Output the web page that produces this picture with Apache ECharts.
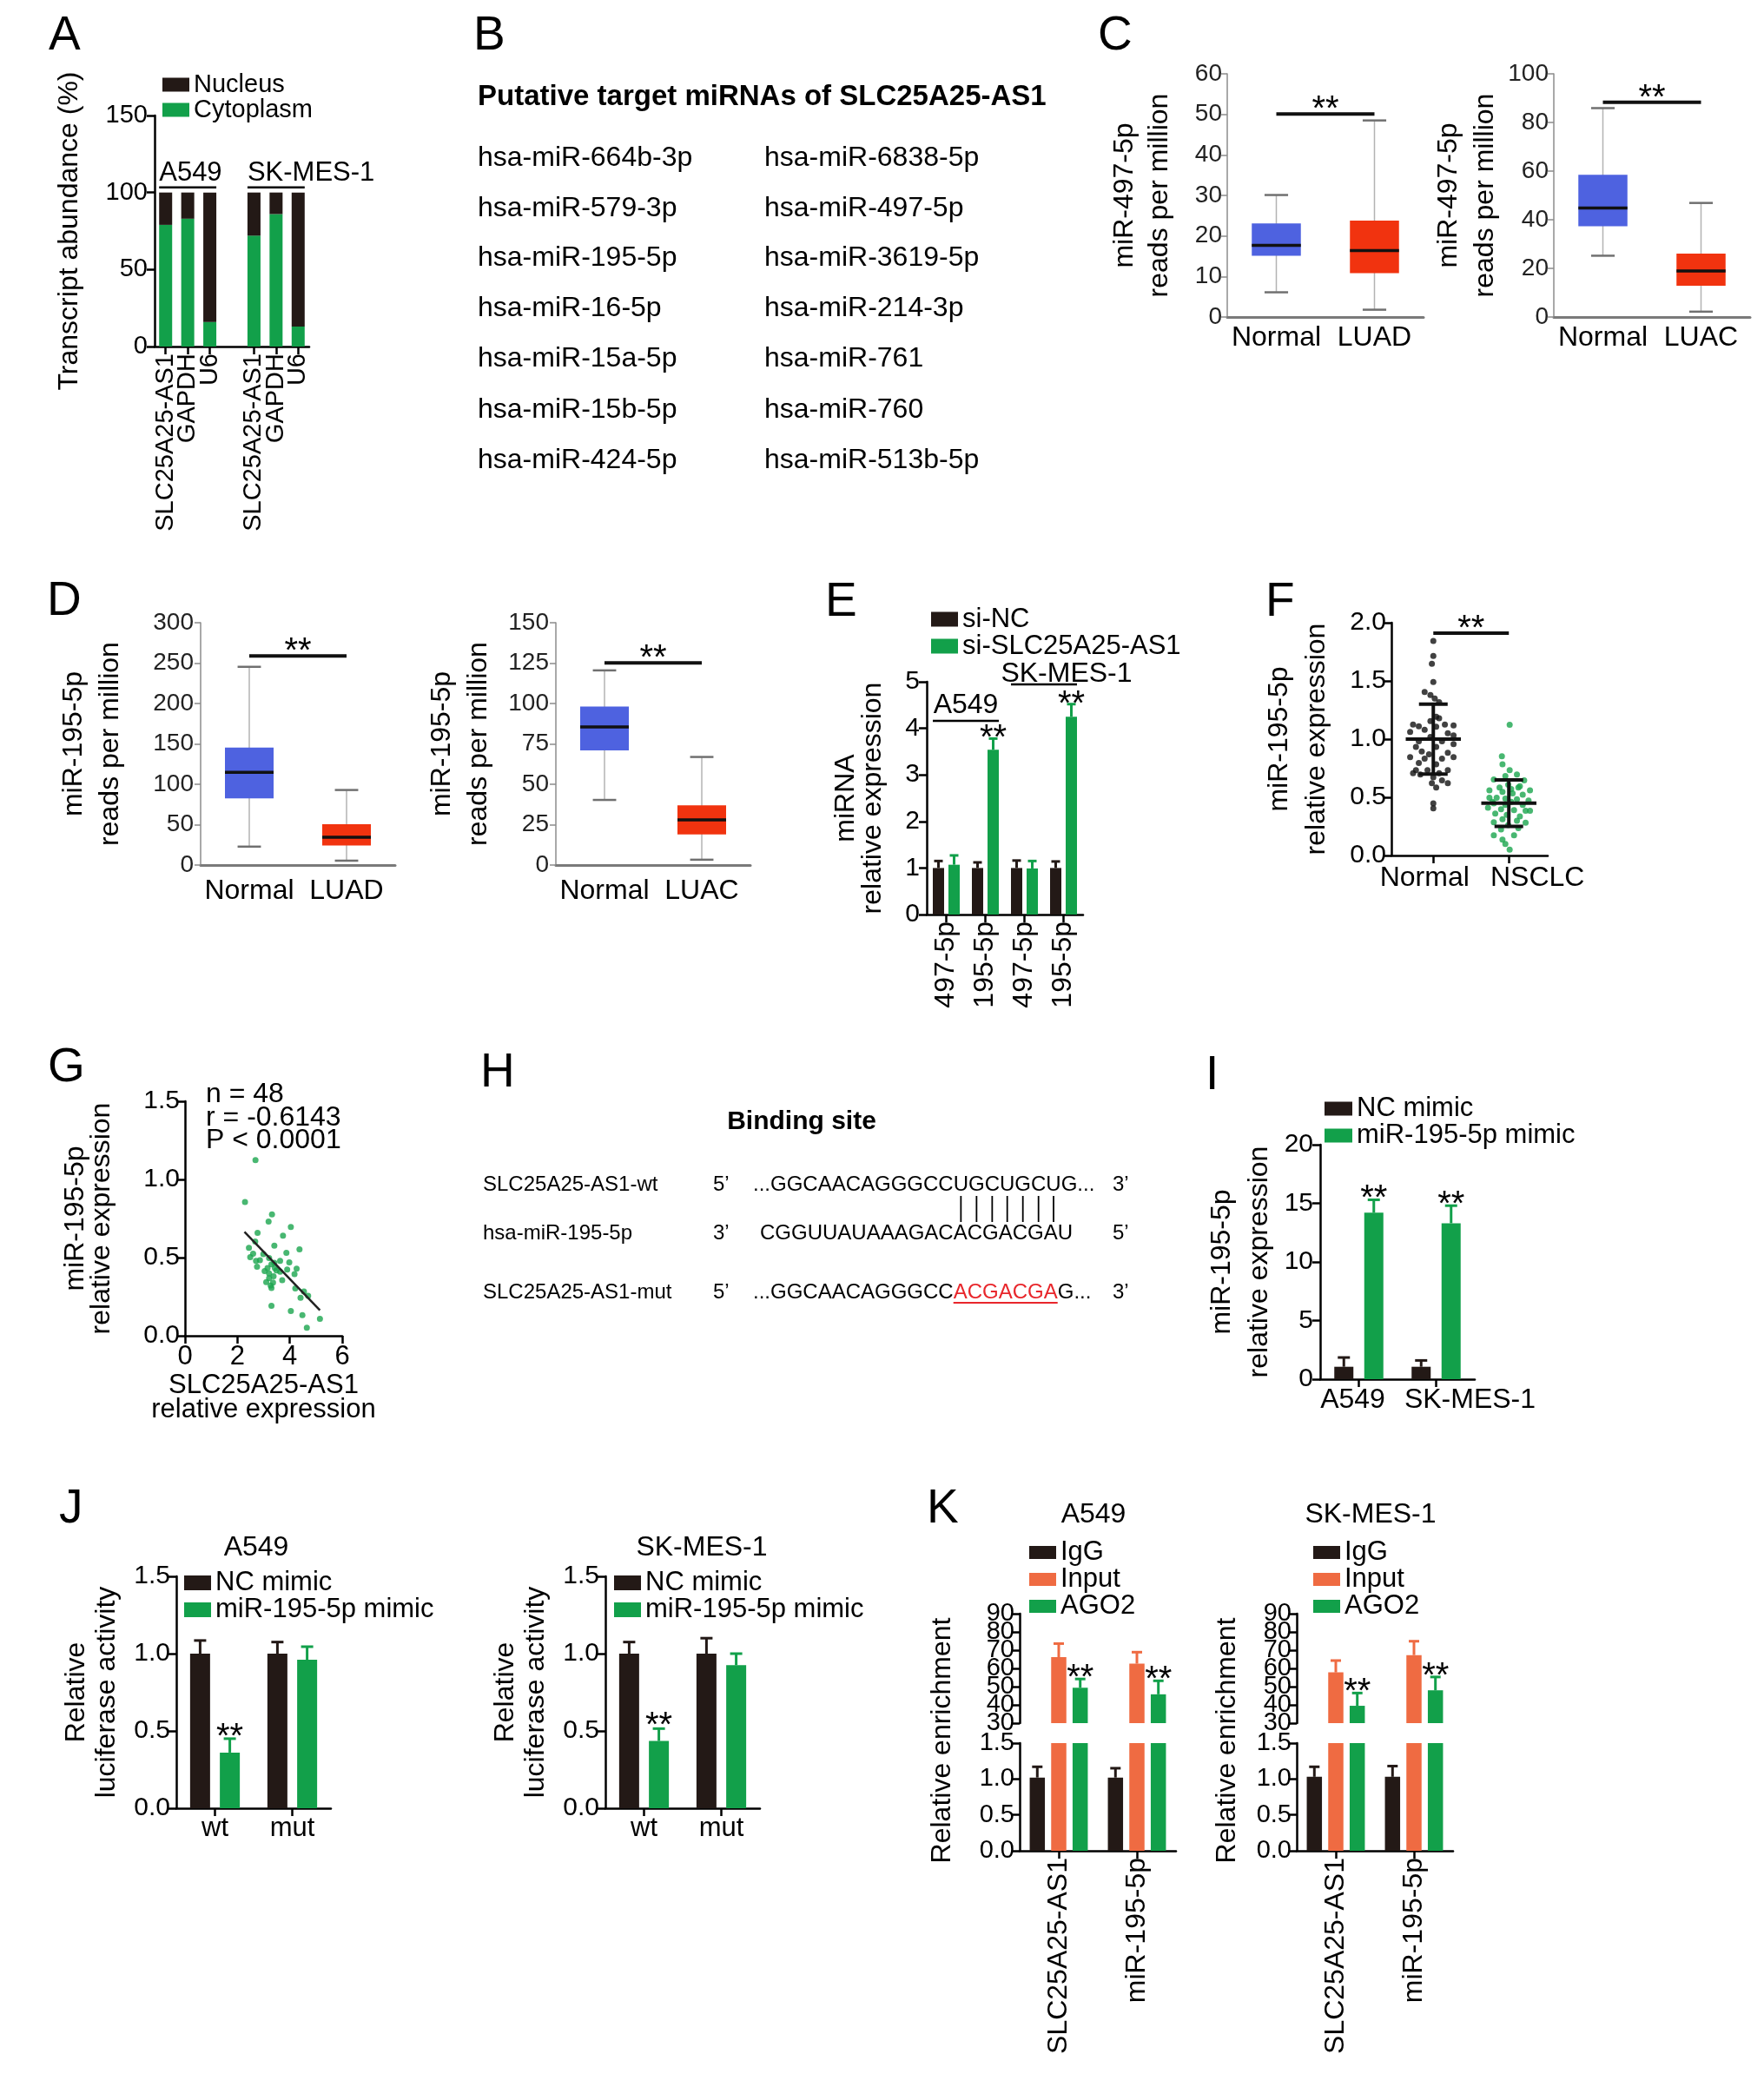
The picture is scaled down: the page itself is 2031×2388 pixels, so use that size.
<!DOCTYPE html>
<html lang="en">
<head>
<meta charset="utf-8">
<title>SLC25A25-AS1 / miR-195-5p</title>
<script src="https://cdn.jsdelivr.net/npm/echarts@6.0.0/dist/echarts.min.js"></script>
<style>
  html, body { margin: 0; padding: 0; background: #ffffff; }
  #chart { width: 2031px; height: 2388px; }
</style>
</head>
<body>
<div id="chart"></div>
<script>
/* ====================== DATA ====================== */
// Panel A
const A_categories = ['SLC25A25-AS1', 'GAPDH', 'U6', '', 'SLC25A25-AS1', 'GAPDH', 'U6'];
const A_groupLabels = ['A549', 'SK-MES-1'];
const A_seriesNames = ['Nucleus', 'Cytoplasm'];
const A_cytoplasm = [79, 83, 16, null, 72, 86, 13];
const A_nucleus = [21, 17, 84, null, 28, 14, 87];
const A_yTicks = [0, 50, 100, 150];

// Panel B
const B_title = 'Putative target miRNAs of SLC25A25-AS1';
const B_column1 = ['hsa-miR-664b-3p', 'hsa-miR-579-3p', 'hsa-miR-195-5p', 'hsa-miR-16-5p', 'hsa-miR-15a-5p', 'hsa-miR-15b-5p', 'hsa-miR-424-5p'];
const B_column2 = ['hsa-miR-6838-5p', 'hsa-miR-497-5p', 'hsa-miR-3619-5p', 'hsa-miR-214-3p', 'hsa-miR-761', 'hsa-miR-760', 'hsa-miR-513b-5p'];

// Panel C  (box = [min, Q1, median, Q3, max])
const C_yTitle = 'miR-497-5p\nreads per million';
const C1_categories = ['Normal', 'LUAD'];
const C1_boxes = [[6.1, 15.1, 17.7, 23.1, 30.1], [1.8, 10.8, 16.4, 23.8, 48.5]];
const C1_sig = 50.1;
const C1_yTicks = [0, 10, 20, 30, 40, 50, 60];
const C2_categories = ['Normal', 'LUAC'];
const C2_boxes = [[25.2, 37.3, 44.8, 58.5, 85.9], [2.2, 12.9, 18.9, 26.1, 46.9]];
const C2_sig = 88.3;
const C2_yTicks = [0, 20, 40, 60, 80, 100];

// Panel D
const D_yTitle = 'miR-195-5p\nreads per million';
const D1_categories = ['Normal', 'LUAD'];
const D1_boxes = [[22.8, 82.4, 114.9, 145.3, 245.4], [5.4, 24.2, 34.3, 50.6, 92.9]];
const D1_sig = 258.8;
const D1_yTicks = [0, 50, 100, 150, 200, 250, 300];
const D2_categories = ['Normal', 'LUAC'];
const D2_boxes = [[40.3, 71.0, 85.5, 98.1, 120.5], [3.3, 19.0, 28.0, 37.0, 66.9]];
const D2_sig = 125.2;
const D2_yTicks = [0, 25, 50, 75, 100, 125, 150];

// Panel E
const E_categories = ['497-5p', '195-5p', '497-5p', '195-5p'];
const E_groupLabels = ['A549', 'SK-MES-1'];
const E_seriesNames = ['si-NC', 'si-SLC25A25-AS1'];
const E_siNC = [1.00, 1.00, 1.00, 1.00];
const E_siNC_sd = [0.15, 0.12, 0.16, 0.14];
const E_siSLC = [1.07, 3.54, 0.99, 4.25];
const E_siSLC_sd = [0.20, 0.24, 0.16, 0.27];
const E_yTicks = [0, 1, 2, 3, 4, 5];

// Panel F  (points = [x position, value])
const F_categories = ['Normal', 'NSCLC'];
const F_normal = [[1.000,1.843],[1.000,1.714],[0.981,1.647],[1.000,1.491],[0.885,1.404],[0.962,1.379],[1.019,1.349],[1.077,1.317],[1.038,1.193],[0.962,1.155],
  [0.732,1.125],[0.808,1.111],[1.153,1.125],[1.268,1.118],[1.038,1.106],[0.885,1.081],[0.693,1.061],[1.192,1.051],[0.962,1.019],[1.268,1.031],
  [0.808,0.981],[1.115,0.981],[1.268,0.957],[0.770,0.932],[1.038,0.932],[0.847,0.894],[1.192,0.882],[0.943,0.870],[0.693,0.845],[0.885,0.832],
  [1.115,0.832],[1.268,0.845],[0.808,0.795],[1.038,0.783],[0.770,0.733],[0.923,0.733],[1.192,0.733],[0.828,0.696],[1.077,0.708],[0.732,0.708],
  [1.000,0.671],[1.115,0.646],[0.981,0.621],[1.192,0.621],[1.038,0.584],[1.000,0.447],[1.000,0.405],[1.077,1.180]];
const F_nsclc = [[2.011,1.123],[1.908,0.852],[1.916,0.783],[2.011,0.733],[2.107,0.696],[1.954,0.683],[1.801,0.653],[2.203,0.646],[1.992,0.609],[1.877,0.584],
  [2.126,0.584],[1.743,0.559],[2.280,0.559],[1.916,0.547],[2.050,0.534],[2.184,0.522],[1.743,0.497],[1.839,0.497],[1.954,0.489],[2.107,0.484],
  [2.261,0.472],[1.801,0.447],[2.031,0.460],[2.184,0.435],[1.724,0.410],[1.897,0.398],[2.069,0.390],[2.280,0.385],[1.820,0.360],[1.973,0.348],
  [2.146,0.335],[1.916,0.311],[2.107,0.298],[1.801,0.286],[2.222,0.281],[1.992,0.261],[2.126,0.236],[1.897,0.224],[1.801,0.174],[2.069,0.174],
  [1.916,0.137],[1.954,0.099],[2.011,0.050],[1.782,0.460],[2.222,0.385],[1.954,0.435],[2.146,0.596],[2.031,0.571]];
const F_meanSD = [[1, 1.00, 0.30], [2, 0.45, 0.20]];
const F_sig = 1.91;
const F_yTicks = [0, 0.5, 1.0, 1.5, 2.0];

// Panel G
const G_points = [[2.69,1.123],[2.29,0.856],[3.32,0.776],[3.19,0.730],[4.04,0.696],[2.77,0.659],[3.74,0.640],[2.68,0.603],[3.41,0.577],[2.44,0.562],
  [4.37,0.553],[3.87,0.531],[2.60,0.525],[2.99,0.522],[2.49,0.503],[3.21,0.497],[2.86,0.484],[2.71,0.479],[3.63,0.479],[3.30,0.457],
  [2.75,0.442],[3.43,0.433],[3.49,0.418],[4.26,0.429],[3.90,0.423],[3.04,0.414],[3.63,0.410],[3.21,0.399],[3.38,0.381],[4.18,0.395],
  [3.71,0.355],[3.21,0.368],[3.10,0.343],[3.36,0.340],[3.27,0.321],[4.21,0.303],[4.54,0.284],[3.30,0.306],[4.41,0.243],[4.70,0.256],
  [3.30,0.191],[4.04,0.158],[4.48,0.132],[5.15,0.108],[4.65,0.052],[3.15,0.433],[3.98,0.470],[3.41,0.466]];
const G_fitLine = [[2.27, 0.665], [5.15, 0.163]];
const G_stats = ['n = 48', 'r = -0.6143', 'P < 0.0001'];
const G_xTicks = [0, 2, 4, 6];
const G_yTicks = [0, 0.5, 1.0, 1.5];

// Panel H
const H_title = 'Binding site';
const H_rowLabels = ['SLC25A25-AS1-wt', 'hsa-miR-195-5p', 'SLC25A25-AS1-mut'];
const H_rowEnds = [['5\u2019', '3\u2019'], ['3\u2019', '5\u2019'], ['5\u2019', '3\u2019']];
const H_wtSeq = ['...GGCAACAGGGCC', 'UGCUGCU', 'G...'];
const H_miRSeq = ['CGGUUAUAAAGAC', 'ACGACGA', 'U'];
const H_mutSeq = ['...GGCAACAGGGCC', 'ACGACGA', 'G...'];

// Panel I
const I_categories = ['A549', 'SK-MES-1'];
const I_seriesNames = ['NC mimic', 'miR-195-5p mimic'];
const I_NC = [1.06, 1.06];
const I_NC_sd = [0.79, 0.54];
const I_mimic = [14.2, 13.3];
const I_mimic_sd = [1.1, 1.5];
const I_yTicks = [0, 5, 10, 15, 20];

// Panel J
const J_categories = ['wt', 'mut'];
const J_titles = ['A549', 'SK-MES-1'];
const J_seriesNames = ['NC mimic', 'miR-195-5p mimic'];
const J1_NC = [1.00, 1.00];
const J1_NC_sd = [0.085, 0.075];
const J1_mimic = [0.36, 0.96];
const J1_mimic_sd = [0.09, 0.085];
const J2_NC = [1.00, 1.00];
const J2_NC_sd = [0.075, 0.10];
const J2_mimic = [0.435, 0.925];
const J2_mimic_sd = [0.08, 0.075];
const J_yTicks = [0, 0.5, 1.0, 1.5];

// Panel K
const K_categories = ['SLC25A25-AS1', 'miR-195-5p'];
const K_titles = ['A549', 'SK-MES-1'];
const K_seriesNames = ['IgG', 'Input', 'AGO2'];
const K1_IgG = [1.02, 1.02];
const K1_IgG_sd = [0.15, 0.13];
const K1_Input = [66.2, 62.6];
const K1_Input_sd = [7.4, 6.3];
const K1_AGO2 = [49.4, 45.8];
const K1_AGO2_sd = [4.8, 7.4];
const K2_IgG = [1.03, 1.03];
const K2_IgG_sd = [0.14, 0.15];
const K2_Input = [57.8, 67.3];
const K2_Input_sd = [6.5, 7.6];
const K2_AGO2 = [39.5, 48.0];
const K2_AGO2_sd = [7.0, 7.3];
const K_upperTicks = [30, 40, 50, 60, 70, 80, 90];
const K_lowerTicks = [0, 0.5, 1.0, 1.5];
const K_yTitle = 'Relative enrichment';

/* ====================== STYLE / HELPERS ====================== */
const FONT = '"Liberation Sans", Arial, Helvetica, sans-serif';
const COL = {black: '#231916', green: '#12a04a', orange: '#ef6b42', blue: '#4e62e0', red: '#f1330f', dotGreen: '#1aa54e', seqRed: '#e8262b'};
const grid = [], xAxis = [], yAxis = [], series = [], legend = [], graphic = [];
const rangeOf = t => ({min: t[0], max: t[t.length - 1], interval: Math.round((t[1] - t[0]) * 1e6) / 1e6});
const oneDec = v => Number(v).toFixed(1);

function addGrid(left, top, width, height) {
  grid.push({left: left, top: top, width: width, height: height, containLabel: false, outerBoundsMode: 'none'});
  return grid.length - 1;
}
function addValueY(gi, tickArr, o) {
  o = o || {};
  const r = rangeOf(tickArr);
  const lc = o.lineColor || '#000', lw = o.lineWidth || 2.5;
  const lab = {show: o.labels !== false, color: o.labelColor || '#000', fontSize: o.fontSize || 30, fontFamily: FONT,
    margin: o.margin == null ? 8 : o.margin, showMinLabel: true, showMaxLabel: true, hideOverlap: false, interval: 0};
  if (o.formatter) lab.formatter = o.formatter;
  yAxis.push({
    type: 'value', gridIndex: gi, min: r.min, max: r.max, interval: r.interval,
    axisLine: {show: true, onZero: false, lineStyle: {color: lc, width: lw}},
    axisTick: {show: true, inside: false, length: o.tickLen || 9, lineStyle: {color: lc, width: lw}},
    axisLabel: lab, splitLine: {show: false},
    name: o.name || '', nameLocation: 'middle', nameRotate: 90, nameGap: o.nameGap || 50, nameMoveOverlap: false,
    nameTextStyle: {fontSize: o.nameSize || 32, fontFamily: FONT, color: '#000', lineHeight: o.nameLH || 34}
  });
  return yAxis.length - 1;
}
function addCatX(gi, cats, o) {
  o = o || {};
  const lab = {show: o.label !== false, interval: 0, rotate: o.rotate || 0, fontSize: o.fontSize || 32, fontFamily: FONT,
    color: '#000', margin: o.margin == null ? 8 : o.margin, hideOverlap: false};
  if (o.formatter) { lab.formatter = o.formatter; lab.rich = o.rich; }
  xAxis.push({
    type: 'category', gridIndex: gi, data: cats, boundaryGap: true,
    axisLine: {show: o.line !== false, onZero: false, lineStyle: {color: o.lineColor || '#000', width: o.lineWidth || 2.5}},
    axisTick: {show: !!o.tick, alignWithLabel: true, length: 9, interval: o.tickInterval == null ? 0 : o.tickInterval,
      lineStyle: {color: '#000', width: 2.5}},
    axisLabel: lab, splitLine: {show: false}
  });
  return xAxis.length - 1;
}
function bars(name, xi, yi, data, color, bw, gapPx, stack) {
  const s = {type: 'bar', name: name, xAxisIndex: xi, yAxisIndex: yi, data: data, barWidth: bw,
    itemStyle: {color: color}, silent: true, z: 2};
  if (gapPx != null) s.barGap = (gapPx / bw * 100).toFixed(1) + '%';
  if (stack) s.stack = stack;
  series.push(s);
}
function errBars(xi, yi, vals, errs, offset, color, capHalf) {
  const data = [];
  vals.forEach((v, i) => { if (v != null) data.push([i, v, errs[i]]); });
  series.push({type: 'custom', xAxisIndex: xi, yAxisIndex: yi, silent: true, z: 5, data: data,
    renderItem: function (params, api) {
      const i = api.value(0), v = api.value(1), e = api.value(2);
      const b = api.coord([i, v]), t = api.coord([i, v + e]);
      const x = b[0] + offset;
      return {type: 'group', children: [
        {type: 'line', shape: {x1: x, y1: b[1], x2: x, y2: t[1]}, style: {stroke: color, lineWidth: 3}},
        {type: 'line', shape: {x1: x - capHalf, y1: t[1], x2: x + capHalf, y2: t[1]}, style: {stroke: color, lineWidth: 3}}
      ]};
    }});
}
function boxes(xi, yi, stats, colors) {
  series.push({type: 'custom', xAxisIndex: xi, yAxisIndex: yi, silent: true, z: 3,
    data: stats.map((s, i) => [i].concat(s)),
    renderItem: function (params, api) {
      const i = api.value(0);
      const mn = api.value(1), q1 = api.value(2), md = api.value(3), q3 = api.value(4), mx = api.value(5);
      const band = api.size([1, 0])[0];
      const bw = band * 0.5, cw = band * 0.24;
      const cx = api.coord([i, md])[0];
      const Y = v => api.coord([i, v])[1];
      return {type: 'group', children: [
        {type: 'line', shape: {x1: cx, y1: Y(mx), x2: cx, y2: Y(mn)}, style: {stroke: '#b3b3b3', lineWidth: 1.5}},
        {type: 'line', shape: {x1: cx - cw / 2, y1: Y(mx), x2: cx + cw / 2, y2: Y(mx)}, style: {stroke: '#707070', lineWidth: 2.5}},
        {type: 'line', shape: {x1: cx - cw / 2, y1: Y(mn), x2: cx + cw / 2, y2: Y(mn)}, style: {stroke: '#707070', lineWidth: 2.5}},
        {type: 'rect', shape: {x: cx - bw / 2, y: Y(q3), width: bw, height: Y(q1) - Y(q3)}, style: {fill: colors[i]}},
        {type: 'line', shape: {x1: cx - bw / 2, y1: Y(md), x2: cx + bw / 2, y2: Y(md)}, style: {stroke: '#111', lineWidth: 3.5}}
      ]};
    }});
}
function sigLine(xi, yi, x0, x1, y) {
  series.push({type: 'line', xAxisIndex: xi, yAxisIndex: yi, data: [[x0, y], [x1, y]], symbol: 'none', silent: true, z: 4,
    lineStyle: {color: '#111', width: 4}});
}
function addLegend(names, left, top, pitch, iw, ih, fs) {
  legend.push({show: true, orient: 'vertical', left: left, top: top, padding: 0, itemGap: 0, itemWidth: iw, itemHeight: ih,
    icon: 'rect', selectedMode: false, data: names,
    textStyle: {fontSize: fs, fontFamily: FONT, color: '#000', lineHeight: pitch}});
}
function txt(text, x, y, o) {
  o = o || {};
  const st = {text: text, x: 0, y: 0, fill: o.color || '#000', fontSize: o.size || 31, fontFamily: FONT,
    fontWeight: o.weight || 'normal', align: o.align || 'left', textAlign: o.align || 'left',
    verticalAlign: o.va || 'middle', textVerticalAlign: o.va || 'middle'};
  return {type: 'text', x: x, y: y, rotation: o.rot || 0, silent: true, z: 100, style: st};
}
function seg(x1, y1, x2, y2, color, w) {
  return {type: 'line', silent: true, z: 100, shape: {x1: x1, y1: y1, x2: x2, y2: y2}, style: {stroke: color || '#000', lineWidth: w || 2}};
}

/* ====================== PANELS ====================== */
// A
const gA = addGrid(178, 133, 178, 266);
const xA = addCatX(gA, A_categories, {tick: true, rotate: 90, fontSize: 29, margin: 8, tickInterval: (i, v) => v !== ''});
const yA = addValueY(gA, A_yTicks, {fontSize: 29, name: 'Transcript abundance (%)', nameGap: 82, nameLH: 32});
bars(A_seriesNames[1], xA, yA, A_cytoplasm, COL.green, 15, null, 'frac');
bars(A_seriesNames[0], xA, yA, A_nucleus, COL.black, 15, null, 'frac');
addLegend(A_seriesNames, 187, 83, 25, 31, 16, 29);

// C
const cAxis = {lineColor: '#8c8c8c', lineWidth: 1.5, tickLen: 7, labelColor: '#222', fontSize: 28, margin: 6};
const gC1 = addGrid(1413, 85, 226, 280);
const xC1 = addCatX(gC1, C1_categories, {fontSize: 32, margin: 8, lineColor: '#7a7a7a', lineWidth: 3});
const yC1 = addValueY(gC1, C1_yTicks, Object.assign({}, cAxis, {name: C_yTitle, nameGap: 58, nameLH: 40}));
boxes(xC1, yC1, C1_boxes, [COL.blue, COL.red]);
sigLine(xC1, yC1, 0, 1, C1_sig);
const gC2 = addGrid(1789, 85, 226, 280);
const xC2 = addCatX(gC2, C2_categories, {fontSize: 32, margin: 8, lineColor: '#7a7a7a', lineWidth: 3});
const yC2 = addValueY(gC2, C2_yTicks, Object.assign({}, cAxis, {name: C_yTitle, nameGap: 58, nameLH: 42}));
boxes(xC2, yC2, C2_boxes, [COL.blue, COL.red]);
sigLine(xC2, yC2, 0, 1, C2_sig);

// D
const gD1 = addGrid(231, 717, 224, 279);
const xD1 = addCatX(gD1, D1_categories, {fontSize: 32, margin: 14, lineColor: '#7a7a7a', lineWidth: 3});
const yD1 = addValueY(gD1, D1_yTicks, Object.assign({}, cAxis, {margin: 8, name: D_yTitle, nameGap: 83, nameLH: 42}));
boxes(xD1, yD1, D1_boxes, [COL.blue, COL.red]);
sigLine(xD1, yD1, 0, 1, D1_sig);
const gD2 = addGrid(640, 717, 224, 279);
const xD2 = addCatX(gD2, D2_categories, {fontSize: 32, margin: 14, lineColor: '#7a7a7a', lineWidth: 3});
const yD2 = addValueY(gD2, D2_yTicks, Object.assign({}, cAxis, {margin: 8, name: D_yTitle, nameGap: 68, nameLH: 42}));
boxes(xD2, yD2, D2_boxes, [COL.blue, COL.red]);
sigLine(xD2, yD2, 0, 1, D2_sig);

// E
const gE = addGrid(1067, 785, 180, 268);
const xE = addCatX(gE, E_categories, {tick: true, rotate: 90, fontSize: 32, margin: 8});
const yE = addValueY(gE, E_yTicks, {fontSize: 30, name: 'miRNA\nrelative expression', nameGap: 46.5, nameLH: 31});
bars(E_seriesNames[0], xE, yE, E_siNC, COL.black, 13, 5);
bars(E_seriesNames[1], xE, yE, E_siSLC, COL.green, 13, 5);
errBars(xE, yE, E_siNC, E_siNC_sd, -9, COL.black, 5);
errBars(xE, yE, E_siSLC, E_siSLC_sd, 9, COL.green, 5);
addLegend(E_seriesNames, 1072, 697.5, 26, 31, 17, 31);

// F
const gF = addGrid(1602, 717, 180, 268);
xAxis.push({type: 'value', gridIndex: gF, min: 0.445, max: 2.515,
  axisLine: {show: true, onZero: false, lineStyle: {color: '#000', width: 2.5}},
  axisTick: {show: true, length: 9, customValues: [1, 2], lineStyle: {color: '#000', width: 2.5}},
  axisLabel: {show: true, customValues: [1, 2], margin: 10, fontSize: 32, fontFamily: FONT, color: '#000',
    formatter: v => (Math.round(v) === 1 ? '{a|' + F_categories[0] + '}' : '{b|' + F_categories[1] + '}'),
    rich: {a: {fontSize: 32, fontFamily: FONT, color: '#000', padding: [0, 20, 0, 0]},
           b: {fontSize: 32, fontFamily: FONT, color: '#000', padding: [0, 0, 0, 66]}}},
  splitLine: {show: false}});
const xF = xAxis.length - 1;
const yF = addValueY(gF, F_yTicks, {fontSize: 30, margin: 6, formatter: oneDec, name: 'miR-195-5p\nrelative expression', nameGap: 64.5, nameLH: 43});
series.push({type: 'scatter', name: 'F-Normal', xAxisIndex: xF, yAxisIndex: yF, data: F_normal, symbolSize: 7, silent: true, itemStyle: {color: '#111'}});
series.push({type: 'scatter', name: 'F-NSCLC', xAxisIndex: xF, yAxisIndex: yF, data: F_nsclc, symbolSize: 7, silent: true, itemStyle: {color: COL.dotGreen}});
series.push({type: 'custom', xAxisIndex: xF, yAxisIndex: yF, data: F_meanSD, silent: true, z: 6,
  renderItem: function (params, api) {
    const x = api.value(0), m = api.value(1), s = api.value(2);
    const c = api.coord([x, m]), hi = api.coord([x, m + s]), lo = api.coord([x, m - s]);
    const mw = api.size([0.365, 0])[0], cw = api.size([0.19, 0])[0];
    const st = {stroke: '#111', lineWidth: 4};
    return {type: 'group', children: [
      {type: 'line', shape: {x1: c[0] - mw, y1: c[1], x2: c[0] + mw, y2: c[1]}, style: st},
      {type: 'line', shape: {x1: c[0], y1: hi[1], x2: c[0], y2: lo[1]}, style: st},
      {type: 'line', shape: {x1: c[0] - cw, y1: hi[1], x2: c[0] + cw, y2: hi[1]}, style: st},
      {type: 'line', shape: {x1: c[0] - cw, y1: lo[1], x2: c[0] + cw, y2: lo[1]}, style: st}
    ]};
  }});
sigLine(xF, yF, 1, 2, F_sig);

// G
const gG = addGrid(213, 1268, 181, 270);
const gr = rangeOf(G_xTicks);
xAxis.push({type: 'value', gridIndex: gG, min: gr.min, max: gr.max, interval: gr.interval,
  axisLine: {show: true, onZero: false, lineStyle: {color: '#000', width: 2.5}},
  axisTick: {show: true, length: 9, lineStyle: {color: '#000', width: 2.5}},
  axisLabel: {show: true, fontSize: 31, fontFamily: FONT, color: '#000', margin: 9},
  splitLine: {show: false},
  name: 'SLC25A25-AS1\nrelative expression', nameLocation: 'middle', nameGap: 43, nameMoveOverlap: false,
  nameTextStyle: {fontSize: 31, fontFamily: FONT, color: '#000', lineHeight: 28}});
const xG = xAxis.length - 1;
const yG = addValueY(gG, G_yTicks, {fontSize: 30, margin: 6, formatter: oneDec, name: 'miR-195-5p\nrelative expression', nameGap: 81, nameLH: 30});
series.push({type: 'scatter', name: 'G-points', xAxisIndex: xG, yAxisIndex: yG, data: G_points, symbolSize: 7, silent: true, itemStyle: {color: COL.dotGreen}});
series.push({type: 'line', name: 'G-fit', xAxisIndex: xG, yAxisIndex: yG, data: G_fitLine, symbol: 'none', silent: true, lineStyle: {color: '#222', width: 2.5}, z: 4});

// I
const gI = addGrid(1520, 1318, 178, 270);
const xI = addCatX(gI, I_categories, {tick: true, fontSize: 32, margin: 8,
  formatter: (v, i) => (i === 0 ? '{a|' + v + '}' : '{b|' + v + '}'),
  rich: {a: {fontSize: 32, fontFamily: FONT, color: '#000', padding: [0, 14, 0, 0]},
         b: {fontSize: 32, fontFamily: FONT, color: '#000', padding: [0, 0, 0, 78]}}});
const yI = addValueY(gI, I_yTicks, {fontSize: 30, name: 'miR-195-5p\nrelative expression', nameGap: 48.5, nameLH: 43});
bars(I_seriesNames[0], xI, yI, I_NC, COL.black, 22, 12.5);
bars(I_seriesNames[1], xI, yI, I_mimic, COL.green, 22, 12.5);
errBars(xI, yI, I_NC, I_NC_sd, -17.25, COL.black, 7);
errBars(xI, yI, I_mimic, I_mimic_sd, 17.25, COL.green, 7);
addLegend(I_seriesNames, 1525, 1261, 27, 32, 16, 31);

// J
function panelJ(left, NC, NCsd, mimic, mimicSd, legendLeft) {
  const g = addGrid(left, 1815, 178, 267);
  const x = addCatX(g, J_categories, {tick: true, fontSize: 31, margin: 8});
  const y = addValueY(g, J_yTicks, {fontSize: 30, margin: 7, formatter: oneDec, name: 'Relative\nluciferase activity', nameGap: 62.5, nameLH: 35});
  bars(J_seriesNames[0], x, y, NC, COL.black, 23, 11.25);
  bars(J_seriesNames[1], x, y, mimic, COL.green, 23, 11.25);
  errBars(x, y, NC, NCsd, -17.1, COL.black, 7);
  errBars(x, y, mimic, mimicSd, 17.1, COL.green, 7);
  addLegend(J_seriesNames, legendLeft, 1807, 26.5, 31, 17, 31);
  return {x: x, y: y};
}
const J1 = panelJ(203, J1_NC, J1_NC_sd, J1_mimic, J1_mimic_sd, 212);
const J2 = panelJ(697, J2_NC, J2_NC_sd, J2_mimic, J2_mimic_sd, 707);

// K
function panelK(left, IgG, IgGsd, Input, InputSd, AGO2, AGO2sd, legendLeft) {
  const gu = addGrid(left, 1858, 180, 126);
  const gl = addGrid(left, 2007, 180, 124);
  const xu = addCatX(gu, K_categories, {line: false, tick: false, label: false});
  const yu = addValueY(gu, K_upperTicks, {fontSize: 29, margin: 6});
  const xl = addCatX(gl, K_categories, {tick: true, rotate: 90, fontSize: 32, margin: 8});
  const yl = addValueY(gl, K_lowerTicks, {fontSize: 29, margin: 6, formatter: oneDec});
  const bw = 17.5, gap = 7.2, step = bw + gap;
  bars(K_seriesNames[0], xu, yu, [null, null], COL.black, bw, gap);
  bars(K_seriesNames[1], xu, yu, Input, COL.orange, bw, gap);
  bars(K_seriesNames[2], xu, yu, AGO2, COL.green, bw, gap);
  bars(K_seriesNames[0], xl, yl, IgG, COL.black, bw, gap);
  bars(K_seriesNames[1], xl, yl, Input, COL.orange, bw, gap);
  bars(K_seriesNames[2], xl, yl, AGO2, COL.green, bw, gap);
  errBars(xu, yu, Input, InputSd, 0, COL.orange, 6);
  errBars(xu, yu, AGO2, AGO2sd, step, COL.green, 6);
  errBars(xl, yl, IgG, IgGsd, -step, COL.black, 6);
  addLegend(K_seriesNames, legendLeft, 1772, 27.5, 31, 15, 31);
  return {xu: xu, yu: yu, xl: xl, yl: yl, step: step};
}
const K1 = panelK(1174, K1_IgG, K1_IgG_sd, K1_Input, K1_Input_sd, K1_AGO2, K1_AGO2_sd, 1185);
const K2 = panelK(1493, K2_IgG, K2_IgG_sd, K2_Input, K2_Input_sd, K2_AGO2, K2_AGO2_sd, 1512);

/* ====================== STATIC TEXT ====================== */
const letterPos = {A: [56, 42], B: [545, 42], C: [1264, 42], D: [54, 693], E: [950, 694], F: [1457, 694],
  G: [55, 1230], H: [553, 1236], I: [1388, 1239], J: [68, 1738], K: [1067, 1738]};
Object.keys(letterPos).forEach(k => graphic.push(txt(k, letterPos[k][0], letterPos[k][1], {size: 55})));

// B list
graphic.push(txt(B_title, 550, 112, {size: 33, weight: 'bold'}));
const B_rowY = [182, 240, 297, 355, 413, 472, 530];
B_column1.forEach((s, i) => graphic.push(txt(s, 550, B_rowY[i], {size: 32})));
B_column2.forEach((s, i) => graphic.push(txt(s, 880, B_rowY[i], {size: 32})));

// G statistics
const G_statY = [1260, 1287, 1313];
G_stats.forEach((s, i) => graphic.push(txt(s, 237, G_statY[i], {size: 32})));

// H binding site
(function () {
  const fs = 24;
  const ctx = document.createElement('canvas').getContext('2d');
  ctx.font = fs + 'px ' + FONT;
  const W = s => ctx.measureText(s).width;
  const labelX = 556, endL = 821, seqX = 867, endR = 1281;
  const rowY = [1364, 1420, 1488];
  graphic.push(txt(H_title, 923, 1292, {size: 30, weight: 'bold', align: 'center'}));
  H_rowLabels.forEach((s, i) => {
    graphic.push(txt(s, labelX, rowY[i], {size: fs}));
    graphic.push(txt(H_rowEnds[i][0], endL, rowY[i], {size: fs}));
    graphic.push(txt(H_rowEnds[i][1], endR, rowY[i], {size: fs}));
  });
  graphic.push(txt(H_wtSeq.join(''), seqX, rowY[0], {size: fs}));
  const coreX = seqX + W(H_wtSeq[0]);
  graphic.push(txt(H_miRSeq.join(''), coreX - W(H_miRSeq[0]), rowY[1], {size: fs}));
  for (let k = 0; k < H_wtSeq[1].length; k++) {
    const cx = coreX + W(H_wtSeq[1].slice(0, k)) + W(H_wtSeq[1][k]) / 2;
    graphic.push(seg(cx, 1377, cx, 1407, '#000', 1.8));
  }
  graphic.push(txt(H_mutSeq[0], seqX, rowY[2], {size: fs}));
  const redW = W(H_mutSeq[1]);
  graphic.push(txt(H_mutSeq[1], coreX, rowY[2], {size: fs, color: COL.seqRed}));
  graphic.push(txt(H_mutSeq[2], coreX + redW, rowY[2], {size: fs}));
  graphic.push(seg(coreX, 1500, coreX + redW, 1500, COL.seqRed, 2));
})();

// J / K titles and K y titles
graphic.push(txt(J_titles[0], 295, 1782, {size: 32, align: 'center'}));
graphic.push(txt(J_titles[1], 808, 1782, {size: 32, align: 'center'}));
graphic.push(txt(K_titles[0], 1259, 1744, {size: 32, align: 'center'}));
graphic.push(txt(K_titles[1], 1578, 1744, {size: 32, align: 'center'}));
graphic.push(txt(K_yTitle, 1085, 2004, {size: 32, align: 'center', rot: Math.PI / 2}));
graphic.push(txt(K_yTitle, 1413, 2004, {size: 32, align: 'center', rot: Math.PI / 2}));

/* ====================== RENDER ====================== */
const chart = echarts.init(document.getElementById('chart'), null, {width: 2031, height: 2388, renderer: 'canvas'});
const option = {backgroundColor: '#ffffff', animation: false, textStyle: {fontFamily: FONT},
  grid: grid, xAxis: xAxis, yAxis: yAxis, series: series, legend: legend, graphic: graphic};
chart.setOption(option);

/* ---- annotations placed through the chart's own coordinate conversion ---- */
try {
  const ann = [];
  const P = (xi, yi, x, y) => chart.convertToPixel({xAxisIndex: xi, yAxisIndex: yi}, [x, y]);
  const star = (x, yVis) => ann.push(txt('**', x, yVis + 9, {size: 40, align: 'center'}));

  // K upper-axis tick labels: the reference prints every one of them, overlapping
  [K1, K2].forEach(k => {
    const ax = chart.getModel().getComponent('yAxis', k.yu);
    K_upperTicks.forEach(t => {
      const p = P(k.xu, k.yu, 0, t);
      const axisX = chart.convertToPixel({gridIndex: yAxis[k.yu].gridIndex}, [0, t]);
      ann.push(txt(String(t), grid[yAxis[k.yu].gridIndex].left - 6, p[1], {size: 29, align: 'right'}));
    });
  });

  // A group labels
  const half = 7.5;
  [[0, 2, 0], [4, 6, 1]].forEach(g => {
    const a = P(xA, yA, g[0], 100), b = P(xA, yA, g[1], 100);
    ann.push(txt(A_groupLabels[g[2]], a[0] - half, a[1] - 22, {size: 31}));
    ann.push(seg(a[0] - half, a[1] - 6, b[0] + half, a[1] - 6, '#000', 2.5));
  });
  // C, D significance stars
  [[xC1, yC1, C1_sig], [xC2, yC2, C2_sig], [xD1, yD1, D1_sig], [xD2, yD2, D2_sig]].forEach(s => {
    const a = P(s[0], s[1], 0, s[2]), b = P(s[0], s[1], 1, s[2]);
    star((a[0] + b[0]) / 2, a[1] - 13);
  });
  // E group labels + stars
  {
    const top = P(xE, yE, 0, 5)[1];
    const g1a = P(xE, yE, 0, 0)[0] - 15.5, g1b = P(xE, yE, 1, 0)[0] + 15.5;
    const g2a = P(xE, yE, 2, 0)[0] - 15.5, g2b = P(xE, yE, 3, 0)[0] + 15.5;
    ann.push(seg(g1a, top + 45, g1b, top + 45, '#000', 2.5));
    ann.push(txt(E_groupLabels[0], (g1a + g1b) / 2, top + 27, {size: 32, align: 'center'}));
    ann.push(seg(g2a, top + 3, g2b, top + 3, '#000', 2.5));
    ann.push(txt(E_groupLabels[1], (g2a + g2b) / 2 + 26, top - 9, {size: 32, align: 'center'}));
    [1, 3].forEach(i => {
      const c = P(xE, yE, i, E_siSLC[i] + E_siSLC_sd[i]);
      star(c[0] + 9, c[1] - 8);
    });
  }
  // F star
  {
    const a = P(xF, yF, 1, F_sig), b = P(xF, yF, 2, F_sig);
    star((a[0] + b[0]) / 2, a[1] - 13);
  }
  // I stars
  [0, 1].forEach(i => {
    const c = P(xI, yI, i, I_mimic[i] + I_mimic_sd[i]);
    star(c[0] + 17.25, c[1] - 9);
  });
  // J stars
  {
    const c1 = P(J1.x, J1.y, 0, J1_mimic[0] + J1_mimic_sd[0]);
    star(c1[0] + 17.1, c1[1] - 10);
    const c2 = P(J2.x, J2.y, 0, J2_mimic[0] + J2_mimic_sd[0]);
    star(c2[0] + 17.1, c2[1] - 11);
  }
  // K stars
  [[K1, K1_AGO2, K1_AGO2_sd], [K2, K2_AGO2, K2_AGO2_sd]].forEach(k => {
    [0, 1].forEach(i => {
      const c = P(k[0].xu, k[0].yu, i, k[1][i] + k[2][i]);
      star(c[0] + k[0].step, c[1] - 9);
    });
  });
  // hide the library's (partially thinned) upper K labels, keep axis + ticks
  const hideUpper = {yAxis: yAxis.map((a, i) => (i === K1.yu || i === K2.yu) ? {axisLabel: {show: false}} : {})};
  chart.setOption(hideUpper);
  chart.setOption({graphic: graphic.concat(ann)});
} catch (e) { console.error(e); }
</script>
</body>
</html>
